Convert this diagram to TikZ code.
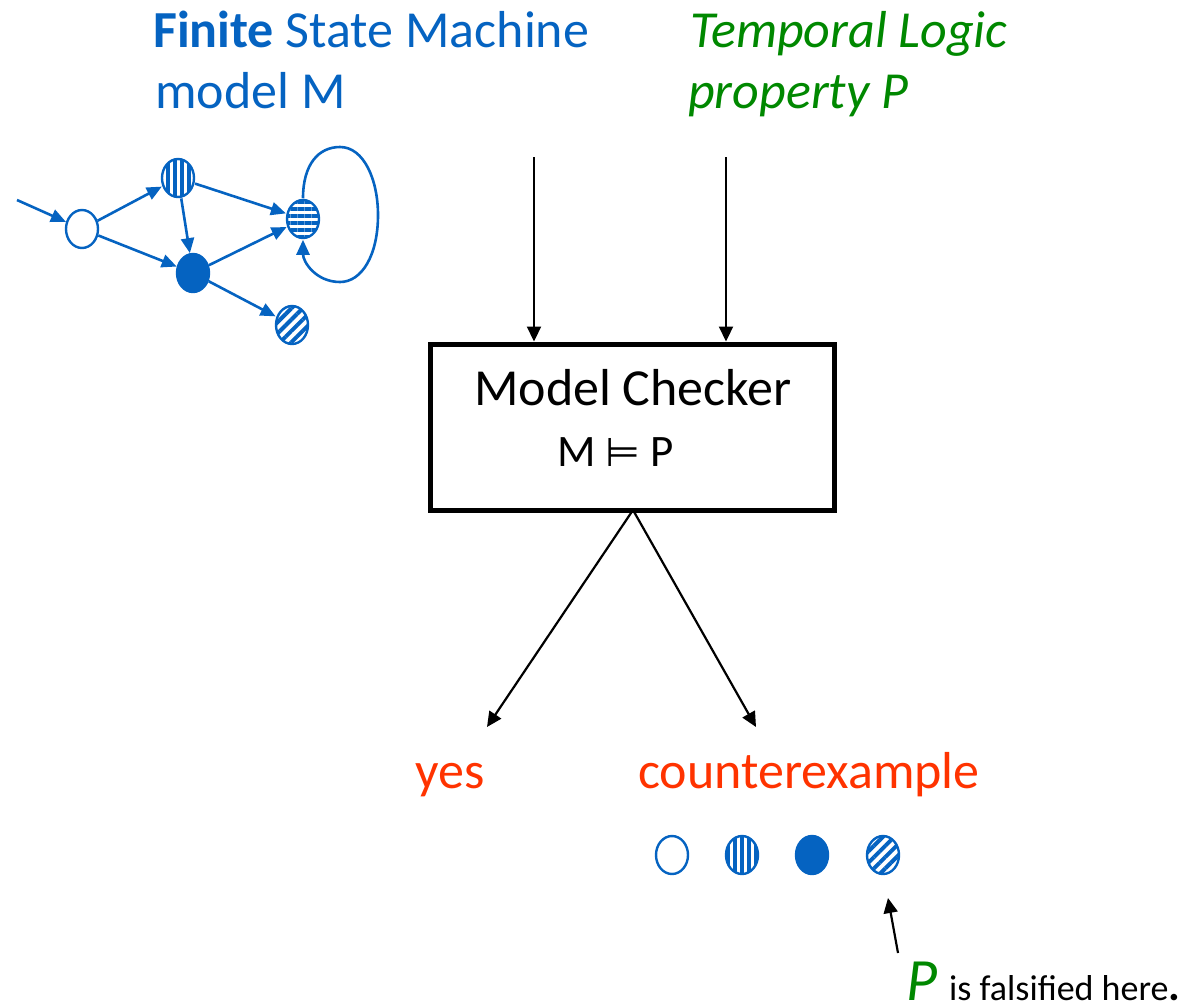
\documentclass[tikz,border=0pt]{standalone}
\usepackage{fontspec}
\setmainfont{Carlito}
\newfontfamily\symfnt{DejaVu Sans}
\usetikzlibrary{shapes.geometric,arrows.meta,patterns.meta}
\definecolor{fsmblue}{RGB}{5,99,193}
\definecolor{propgreen}{RGB}{0,136,0}
\definecolor{resred}{RGB}{255,51,0}
\tikzset{
  st/.style={ellipse,draw=fsmblue,line width=2.4pt,minimum width=32pt,minimum height=38pt,inner sep=0pt},
  vst/.style={st,pattern={Lines[angle=90,distance=7pt,line width=3.5pt]},pattern color=fsmblue},
  hst/.style={st,pattern={Lines[angle=0,distance=7pt,line width=3.5pt]},pattern color=fsmblue},
  dst/.style={st,pattern={Lines[angle=45,distance=8pt,line width=4pt]},pattern color=fsmblue},
  fst/.style={st,fill=fsmblue},
  fedge/.style={draw=fsmblue,line width=2.6pt,-{Triangle[length=15pt,width=13pt]}},
  arr/.style={draw=black,line width=2.2pt,-{Triangle[length=15pt,width=14pt]}},
  lbl/.style={anchor=base west,inner sep=0pt},
}
\begin{document}
\begin{tikzpicture}[x=1pt,y=-1pt]
\useasboundingbox (0,0) rectangle (1198,1007);
% titles
\node[lbl,text=fsmblue,font=\fontsize{52}{60}\selectfont] (t1) at (153,47) {\textbf{Finite} State Machine};
\node[lbl,text=fsmblue,font=\fontsize{52}{60}\selectfont] (t2) at (155,108) {model M};
\node[lbl,text=propgreen,font=\fontsize{52}{60}\selectfont\itshape] (t3) at (690,47) {Temporal Logic};
\node[lbl,text=propgreen,font=\fontsize{52}{60}\selectfont\itshape] (t4) at (688,108) {property P};
% FSM
\coordinate (init) at (17,200);
\node[st] (s0) at (82,229) {};
\node[vst] (s1) at (178,178) {};
\node[fst] (s2) at (193,273) {};
\node[hst] (s3) at (303,219) {};
\node[dst] (s4) at (292,325) {};
\draw[fedge] (init) -- (s0);
\draw[fedge] (s0) -- (s1);
\draw[fedge] (s0) -- (s2);
\draw[fedge] (s1) -- (s3);
\draw[fedge] (s1) -- (s2);
\draw[fedge] (s2) -- (s3);
\draw[fedge] (s2) -- (s4);
\draw[fedge] (s3.north) .. controls (303,165) and (318,147) .. (340,147)
  .. controls (364,147) and (378,180) .. (378,215)
  .. controls (378,255) and (362,282) .. (340,282)
  .. controls (316,282) and (303,262) .. (s3.south);
% model checker
\node[draw=black,line width=5pt,minimum width=404pt,minimum height=166pt,inner sep=0pt] (mc) at (632,427) {};
\node[lbl,font=\fontsize{52}{60}\selectfont] (mct) at (474,405) {Model Checker};
\node[lbl,font=\fontsize{45}{50}\selectfont] (mcf) at (557,466) {M {\symfnt\fontsize{40}{45}\selectfont ⊨} P};
\coordinate (in1) at (534,157);
\coordinate (in2) at (726,157);
\draw[arr] (in1) -- (in1 |- mc.north);
\draw[arr] (in2) -- (in2 |- mc.north);
\coordinate (apex) at (633,510);
\coordinate (oyes) at (487,727);
\coordinate (ocex) at (756,727);
\draw[arr] (apex) -- (oyes);
\draw[arr] (apex) -- (ocex);
% results
\node[lbl,text=resred,font=\fontsize{52}{60}\selectfont] (yes) at (415,788) {yes};
\node[lbl,text=resred,font=\fontsize{52}{60}\selectfont] (cex) at (638,788) {counterexample};
\node[st] (d1) at (672,855) {};
\node[vst] (d2) at (742,855) {};
\node[fst] (d3) at (812,855) {};
\node[dst] (d4) at (883,855) {};
\node[lbl] (fals) at (906,1000) {\smash{{\fontsize{60}{60}\selectfont\itshape\color{propgreen}P}\hspace{12pt}{\fontsize{36}{40}\selectfont is falsified here}{\fontsize{44}{44}\selectfont\bfseries .}}};
\coordinate (ptail) at (898,953);
\coordinate (ptip) at (888,898);
\draw[arr] (ptail) -- (ptip);
\end{tikzpicture}
\end{document}
